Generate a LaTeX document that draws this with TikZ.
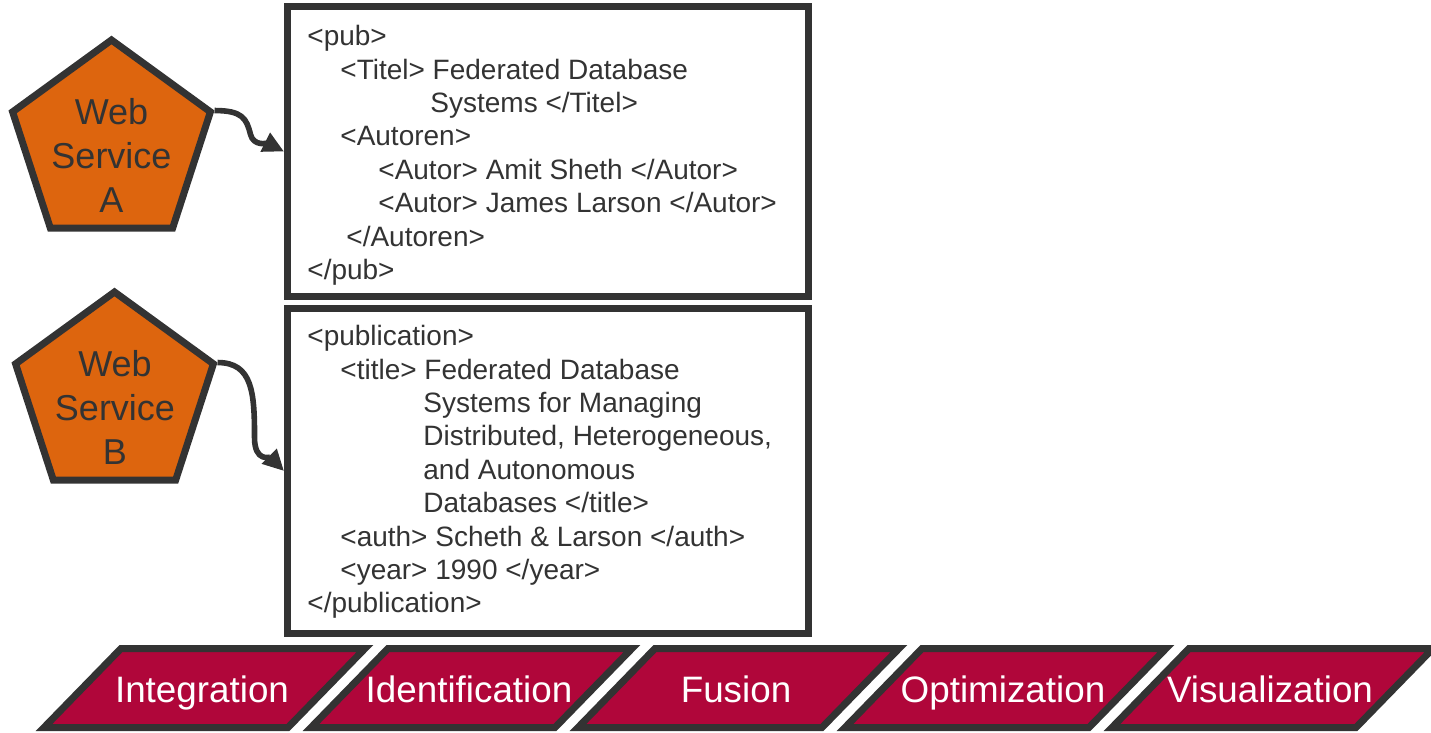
\documentclass[tikz,border=0pt]{standalone}
\usepackage{fontspec}
\setmainfont{Liberation Sans}
\usetikzlibrary{shapes.geometric,arrows.meta}

\definecolor{edgegray}{HTML}{333333}
\definecolor{wsorange}{HTML}{DD650E}
\definecolor{stepred}{HTML}{B0063A}

\tikzset{
  service/.style={regular polygon, regular polygon sides=5, minimum size=104pt,
    inner sep=0pt, draw=edgegray, fill=wsorange, line width=3.5pt},
  servicetext/.style={align=center, text=edgegray, inner sep=0pt,
    font=\fontsize{18}{22}\selectfont},
  xmlbox/.style={draw=edgegray, fill=white, line width=3.5pt, inner sep=0pt,
    minimum width=260.5pt},
  xmltext/.style={align=left, text=edgegray, inner sep=0pt, anchor=north west,
    font=\fontsize{14}{16.7}\selectfont},
  flow/.style={draw=edgegray, line width=2.8pt, -{Triangle[length=10.5pt,width=10pt]}},
  steppara/.style={draw=edgegray, fill=stepred, line width=3.5pt},
  steplabel/.style={text=white, inner sep=0pt, anchor=base,
    font=\fontsize{18.4}{18.4}\selectfont}
}

\begin{document}
\begin{tikzpicture}[x=0.5pt,y=-0.5pt]
  \useasboundingbox (0,0) rectangle (1431,733);

  % the two sources
  \node[service] (wsA) at (111.5,144) {};
  \node[servicetext] (wsAtext) at (111.5,155.5) {Web\\Service\\A};
  \node[service] (wsB) at (114.5,396) {};
  \node[servicetext] (wsBtext) at (115,407.5) {Web\\Service\\B};

  % their records
  \node[xmlbox, minimum height=145pt] (pubA) at (548,151.5) {};
  \node[xmltext] (xmlA) at (307,25) {%
    <pub>\\
    \hspace*{16.5pt}<Titel> Federated Database\\
    \hspace*{61.5pt}Systems </Titel>\\
    \hspace*{16.5pt}<Autoren>\\
    \hspace*{35.5pt}<Autor> Amit Sheth </Autor>\\
    \hspace*{35.5pt}<Autor> James Larson </Autor>\\
    \hspace*{19.5pt}</Autoren>\\
    </pub>};

  \node[xmlbox, minimum height=162.5pt] (pubB) at (548,471) {};
  \node[xmltext] (xmlB) at (307,325) {%
    <publication>\\
    \hspace*{16.5pt}<title> Federated Database\\
    \hspace*{58pt}Systems for Managing\\
    \hspace*{58pt}Distributed, Heterogeneous,\\
    \hspace*{58pt}and Autonomous\\
    \hspace*{58pt}Databases </title>\\
    \hspace*{16.5pt}<auth> Scheth \& Larson </auth>\\
    \hspace*{16.5pt}<year> 1990 </year>\\
    </publication>};

  \draw[flow] (wsA.corner 5) .. controls +(28,0) and +(-4,-16) .. +(36,24)
    .. controls +(3,12) and +(-16,-8) .. (pubA.west);
  \draw[flow] (wsB.corner 5) .. controls +(35,0) and +(0,-45) .. +(37,75)
    .. controls +(0,25) and +(-14,-14) .. (pubB.west);

  % process steps
  \foreach \name [count=\i from 0] in {Integration,Identification,Fusion,Optimization,Visualization} {
    \draw[steppara] (121+267*\i,648.5) -- ++(244,0) -- ++(-77,79) -- ++(-244,0) -- cycle;
    \node[steplabel] (step\i) at (202+267*\i,702.5) {\name};
  }
\end{tikzpicture}
\end{document}
